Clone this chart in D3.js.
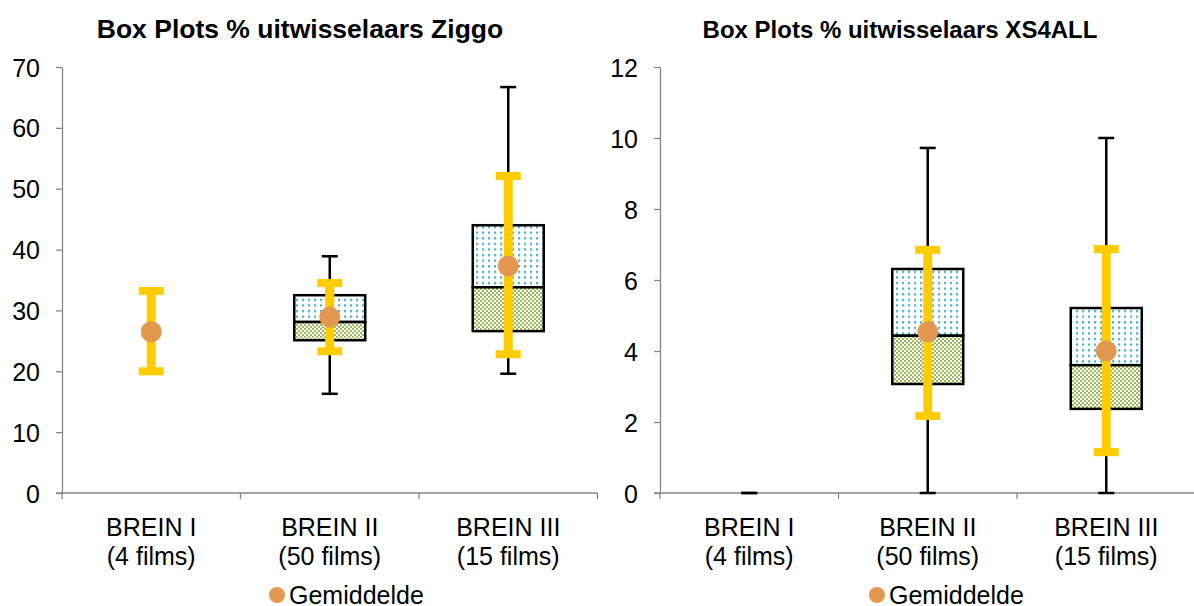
<!DOCTYPE html>
<html><head><meta charset="utf-8">
<script src="https://cdn.jsdelivr.net/npm/d3@7/dist/d3.min.js"></script>
<style>body{margin:0;background:#fff}svg{display:block;font-family:"Liberation Sans",Arial,sans-serif}</style>
</head><body><svg id="c" width="1194" height="606"></svg>
<script>
const categories = ["BREIN I|(4 films)", "BREIN II|(50 films)", "BREIN III|(15 films)"];
// Ziggo
const ziggoWhiskerMin = [null, 16.3, 19.6];
const ziggoQ1 = [null, 25.1, 26.6];
const ziggoMedian = [null, 28.1, 33.8];
const ziggoQ3 = [null, 32.5, 44.0];
const ziggoWhiskerMax = [null, 38.9, 66.7];
const ziggoMean = [26.5, 28.9, 37.3];
const ziggoErrLow = [20.0, 23.3, 22.8];
const ziggoErrHigh = [33.2, 34.5, 52.1];
const ziggoTicks = [0, 10, 20, 30, 40, 50, 60, 70];
// XS4ALL
const xsWhiskerMin = [0, 0, 0];
const xsQ1 = [null, 3.07, 2.37];
const xsMedian = [null, 4.43, 3.6];
const xsQ3 = [null, 6.31, 5.21];
const xsWhiskerMax = [0, 9.72, 10.0];
const xsMean = [null, 4.54, 4.0];
const xsErrLow = [null, 2.17, 1.15];
const xsErrHigh = [null, 6.85, 6.87];
const xsTicks = [0, 2, 4, 6, 8, 10, 12];

const svg = d3.select("#c");
const defs = svg.append("defs");
const pd = defs.append("pattern").attr("id","dots").attr("patternUnits","userSpaceOnUse").attr("width",6).attr("height",5.6);
pd.append("rect").attr("width",6).attr("height",5.6).attr("fill","#fff");
pd.append("rect").attr("x",2).attr("y",2).attr("width",2.2).attr("height",2.2).attr("fill","#4BACC6");
const pc = defs.append("pattern").attr("id","check").attr("patternUnits","userSpaceOnUse").attr("width",4).attr("height",4);
pc.append("rect").attr("width",4).attr("height",4).attr("fill","#fff");
pc.append("rect").attr("x",0).attr("y",0).attr("width",2).attr("height",2).attr("fill","#9BBB59");
pc.append("rect").attr("x",2).attr("y",2).attr("width",2).attr("height",2).attr("fill","#9BBB59");

const FS = 25;
function panel(o){
  const g = svg.append("g");
  const y = d3.scaleLinear().domain([0, o.max]).range([493, 67]);
  const x = d3.scaleBand().domain(categories).range([o.x0, o.x0 + 3*178.5]).padding(0);
  const cx = i => x(categories[i]) + x.bandwidth()/2;

  g.append("text").attr("x", o.titleX).attr("y", 38).attr("text-anchor","middle")
    .attr("font-weight","bold").attr("font-size", o.titleSize).text(o.title);

  const ya = g.append("g").attr("transform",`translate(${o.x0},0)`)
    .call(d3.axisLeft(y).tickValues(o.ticks).tickSize(6).tickPadding(16).tickSizeOuter(0));
  ya.select(".domain").attr("stroke","#868686").attr("stroke-width",1.3);
  ya.selectAll(".tick line").attr("stroke","#868686").attr("stroke-width",1.3);
  ya.selectAll(".tick text").attr("font-size",FS).attr("fill","#000").attr("dy","0.36em")
    .attr("font-family","Liberation Sans, Arial, sans-serif");

  const xa = g.append("g").attr("transform","translate(0,493)");
  xa.append("line").attr("x1",o.x0-6).attr("x2",o.x0+3*178.5).attr("stroke","#868686").attr("stroke-width",1.3);
  [0,1,2,3].forEach(i=>{
    const xx = o.x0 + i*x.step();
    xa.append("line").attr("x1",xx).attr("x2",xx).attr("y1",0).attr("y2",6).attr("stroke","#868686").attr("stroke-width",1.3);
  });
  categories.forEach((c,i)=>{
    const parts = c.split("|");
    const t = xa.append("text").attr("text-anchor","middle").attr("font-size",FS).attr("fill","#000");
    t.append("tspan").attr("x",cx(i)).attr("y",43).text(parts[0]);
    t.append("tspan").attr("x",cx(i)).attr("y",72).text(parts[1]);
  });

  const bw = 71;
  categories.forEach((c,i)=>{
    const xc = cx(i);
    if (o.wMax[i] != null) {
      g.append("line").attr("x1",xc).attr("x2",xc).attr("y1",y(o.wMin[i])).attr("y2",y(o.wMax[i])).attr("stroke","#000").attr("stroke-width",2.5);
      [o.wMin[i], o.wMax[i]].forEach(v=>{
        g.append("line").attr("x1",xc-8).attr("x2",xc+8).attr("y1",y(v)).attr("y2",y(v)).attr("stroke","#000").attr("stroke-width",2.5);
      });
    }
    if (o.q1[i] != null) {
      g.append("rect").attr("x",xc-bw/2).attr("width",bw).attr("y",y(o.q3[i])).attr("height",y(o.med[i])-y(o.q3[i]))
        .attr("fill","url(#dots)").attr("stroke","#000").attr("stroke-width",2.5);
      g.append("rect").attr("x",xc-bw/2).attr("width",bw).attr("y",y(o.med[i])).attr("height",y(o.q1[i])-y(o.med[i]))
        .attr("fill","url(#check)").attr("stroke","#000").attr("stroke-width",2.5);
    }
    if (o.eLo[i] != null) {
      g.append("line").attr("x1",xc).attr("x2",xc).attr("y1",y(o.eLo[i])).attr("y2",y(o.eHi[i])).attr("stroke","#FFCC00").attr("stroke-width",9);
      [o.eLo[i], o.eHi[i]].forEach(v=>{
        g.append("line").attr("x1",xc-12.5).attr("x2",xc+12.5).attr("y1",y(v)).attr("y2",y(v)).attr("stroke","#FFCC00").attr("stroke-width",8);
      });
    }
    if (o.mean[i] != null) {
      g.append("circle").attr("cx",xc).attr("cy",y(o.mean[i])).attr("r",10.5).attr("fill","#E2984F");
    }
  });

  g.append("circle").attr("cx",o.legX).attr("cy",595).attr("r",8).attr("fill","#E2984F");
  g.append("text").attr("x",o.legX+12).attr("y",604).attr("font-size",FS).attr("fill","#000").text("Gemiddelde");
}

panel({x0:62, max:70, ticks:ziggoTicks, title:"Box Plots % uitwisselaars Ziggo", titleX:300, titleSize:26.5,
  wMin:ziggoWhiskerMin, q1:ziggoQ1, med:ziggoMedian, q3:ziggoQ3, wMax:ziggoWhiskerMax,
  mean:ziggoMean, eLo:ziggoErrLow, eHi:ziggoErrHigh, legX:277});
panel({x0:660, max:12, ticks:xsTicks, title:"Box Plots % uitwisselaars XS4ALL", titleX:900, titleSize:24,
  wMin:xsWhiskerMin, q1:xsQ1, med:xsMedian, q3:xsQ3, wMax:xsWhiskerMax,
  mean:xsMean, eLo:xsErrLow, eHi:xsErrHigh, legX:877});
</script></body></html>
